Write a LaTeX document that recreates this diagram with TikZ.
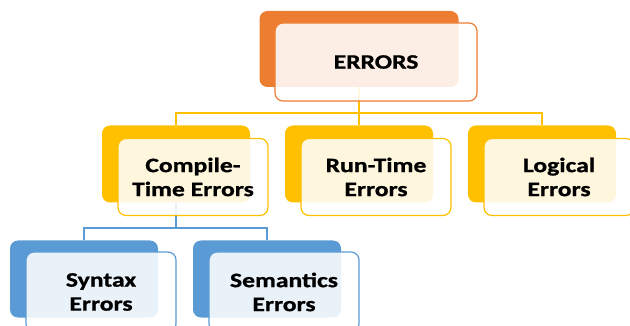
\documentclass[tikz,border=0pt]{standalone}
\usepackage{fontspec}
\setmainfont{Carlito}[FakeStretch=1.25, BoldFeatures={FakeBold=1}]
\usetikzlibrary{backgrounds}

\definecolor{orangeA}{HTML}{ED7D31}
\definecolor{goldA}{HTML}{FFC000}
\definecolor{blueA}{HTML}{5B9BD5}

\tikzset{
  backbox/.style={rounded corners=8pt, inner sep=0pt, minimum width=148pt, minimum height=77pt},
  frontbox/.style={rounded corners=8pt, inner sep=0pt, line width=1.2pt, fill=white, fill opacity=0.87,
    text opacity=1, minimum width=150pt, minimum height=77pt, align=center,
    font=\bfseries\fontsize{20.5}{24}\selectfont},
  link/.style={line width=1.3pt}
}

\begin{document}
\begin{tikzpicture}[x=1pt,y=-1pt]
\useasboundingbox (0,0) rectangle (630,326);

% top box
\node[backbox, fill=orangeA, minimum width=199pt, minimum height=76pt] (errb) at (359,49) {};
\node[frontbox, draw=orangeA, minimum width=202pt, minimum height=78pt] (errf) at (376,62) {ERRORS};

% second level
\foreach \nm/\cx/\txt in {ct/176/{Compile-\\Time Errors}, rt/359/{Run-Time\\Errors}, lg/542/{Logical\\Errors}}
{   \node[backbox, fill=goldA] (\nm b) at (\cx,164) {};
    \node[frontbox, draw=goldA] (\nm f) at (\cx+17,177) {\txt};
}

% third level (cut off at the bottom)
\foreach \nm/\cx/\txt in {sy/84/{Syntax\\Errors}, se/267/{Semantics\\Errors}}
{   \node[backbox, fill=blueA] (\nm b) at (\cx,279) {};
    \node[frontbox, draw=blueA, minimum height=80pt] (\nm f) at (\cx+17,292) {\txt};
}

\coordinate (busA) at (0,113);
\coordinate (busB) at (0,228);

\begin{scope}[on background layer]
\foreach \nm in {ct,rt,lg}
{	\draw[link, goldA] (errb.south) -- (errb.south |- busA) -| (\nm b.north); }
\foreach \nm in {sy,se}
{	\draw[link, blueA] (ctb.south) -- (ctb.south |- busB) -| (\nm b.north); }
\end{scope}
\end{tikzpicture}
\end{document}
